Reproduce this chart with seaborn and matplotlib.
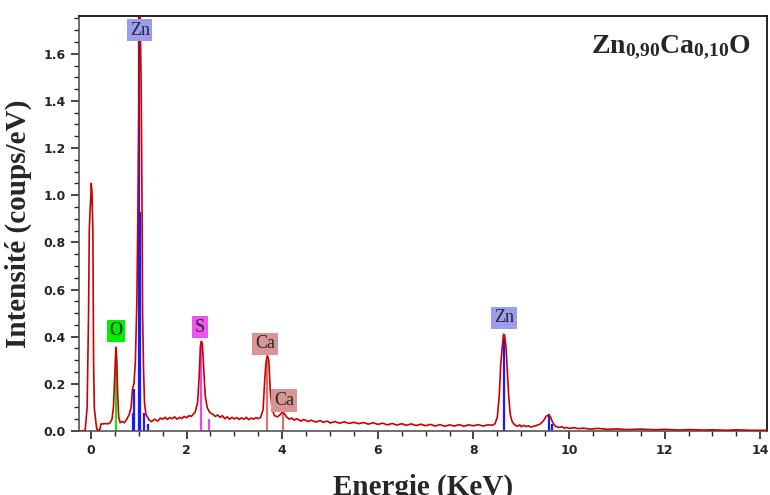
import numpy as np
import pandas as pd
import matplotlib
matplotlib.use("Agg")
import matplotlib.pyplot as plt
from matplotlib.ticker import MultipleLocator
import seaborn as sns

# EDX spectrum, (keV, coups/eV) pairs
zero_peak = [(-0.25, 0.0), (-0.15, 0.0), (-0.12, 0.005), (-0.08, 0.1), (-0.05, 0.5),
             (-0.035, 0.85), (-0.015, 0.95), (0.0, 1.0), (0.005, 1.05), (0.02, 1.02),
             (0.04, 0.85), (0.055, 0.3), (0.07, 0.1), (0.09, 0.06), (0.12, 0.01),
             (0.16, 0.0), (0.19, 0.01), (0.21, 0.03), (0.25, 0.03), (0.3, 0.032),
             (0.35, 0.03), (0.4, 0.035)]
o_zn_l = [(0.44, 0.05), (0.47, 0.1), (0.49, 0.2), (0.51, 0.3), (0.523, 0.355),
          (0.54, 0.3), (0.56, 0.15), (0.58, 0.06), (0.61, 0.035), (0.65, 0.04),
          (0.7, 0.035), (0.75, 0.05), (0.8, 0.07), (0.84, 0.1), (0.87, 0.18),
          (0.9, 0.2), (0.93, 0.3), (0.96, 0.55), (0.98, 0.9), (1.0, 1.35),
          (1.015, 1.78), (1.03, 1.75), (1.05, 1.47), (1.07, 0.9), (1.08, 0.5),
          (1.1, 0.26), (1.12, 0.12), (1.15, 0.07), (1.18, 0.06), (1.22, 0.045),
          (1.27, 0.04), (1.33, 0.05), (1.4, 0.042), (1.45, 0.055), (1.5, 0.05),
          (1.55, 0.058), (1.6, 0.049), (1.65, 0.057), (1.7, 0.052), (1.75, 0.06),
          (1.8, 0.05), (1.85, 0.058), (1.9, 0.053), (1.95, 0.062), (2.0, 0.056),
          (2.05, 0.065), (2.1, 0.062)]
s_ca = [(2.18, 0.08), (2.23, 0.12), (2.26, 0.22), (2.29, 0.36), (2.31, 0.38),
        (2.33, 0.37), (2.36, 0.26), (2.39, 0.15), (2.43, 0.1), (2.48, 0.08),
        (2.55, 0.07), (2.6, 0.062), (2.65, 0.068), (2.7, 0.058), (2.75, 0.065),
        (2.8, 0.052), (2.85, 0.06), (2.9, 0.05), (2.95, 0.058), (3.0, 0.051),
        (3.05, 0.057), (3.1, 0.049), (3.15, 0.056), (3.2, 0.05), (3.25, 0.058),
        (3.3, 0.048), (3.35, 0.055), (3.4, 0.05), (3.45, 0.057), (3.5, 0.052),
        (3.55, 0.058), (3.6, 0.09), (3.63, 0.2), (3.66, 0.29), (3.69, 0.32),
        (3.72, 0.3), (3.75, 0.17), (3.79, 0.09), (3.84, 0.065), (3.9, 0.06),
        (3.95, 0.068), (4.0, 0.078), (4.04, 0.075), (4.09, 0.06), (4.15, 0.05)]
background = [(4.2, 0.055), (4.25, 0.046), (4.3, 0.052), (4.4, 0.042), (4.45, 0.049),
              (4.55, 0.04), (4.6, 0.046), (4.7, 0.038), (4.8, 0.044), (4.85, 0.037),
              (4.95, 0.042), (5.0, 0.034), (5.1, 0.04), (5.2, 0.033), (5.3, 0.039),
              (5.4, 0.032), (5.5, 0.037), (5.6, 0.031), (5.7, 0.036), (5.8, 0.029),
              (5.9, 0.035), (6.0, 0.028), (6.1, 0.033), (6.2, 0.026), (6.3, 0.032),
              (6.4, 0.025), (6.5, 0.031), (6.6, 0.024), (6.7, 0.03), (6.8, 0.023),
              (6.9, 0.029), (7.0, 0.022), (7.1, 0.028), (7.2, 0.021), (7.3, 0.027),
              (7.4, 0.02), (7.5, 0.026), (7.6, 0.021), (7.7, 0.027), (7.8, 0.02),
              (7.9, 0.026), (8.0, 0.022), (8.1, 0.027), (8.2, 0.021), (8.3, 0.026),
              (8.4, 0.025)]
zn_k = [(8.45, 0.03), (8.5, 0.06), (8.54, 0.15), (8.57, 0.28), (8.6, 0.35),
        (8.63, 0.41), (8.65, 0.405), (8.68, 0.36), (8.71, 0.25), (8.74, 0.14),
        (8.77, 0.07), (8.81, 0.04), (8.86, 0.026), (8.92, 0.02), (8.97, 0.026),
        (9.0, 0.018), (9.05, 0.024), (9.1, 0.019), (9.15, 0.022), (9.2, 0.017),
        (9.3, 0.022), (9.4, 0.03), (9.47, 0.045), (9.52, 0.062), (9.57, 0.068),
        (9.61, 0.06), (9.65, 0.04), (9.7, 0.022), (9.78, 0.015), (9.85, 0.018),
        (9.9, 0.012), (9.95, 0.015), (10.0, 0.011), (10.1, 0.014), (10.2, 0.01),
        (10.3, 0.012), (10.45, 0.008), (10.6, 0.011), (10.8, 0.007), (11.0, 0.009),
        (11.2, 0.006), (11.5, 0.008), (11.8, 0.005), (12.0, 0.007), (12.3, 0.004),
        (12.5, 0.006), (12.8, 0.004), (13.0, 0.005), (13.3, 0.003), (13.5, 0.005),
        (13.8, 0.003), (14.0, 0.003), (14.14, 0.003)]

# characteristic X-ray lines
line_energy = [0.525, 0.885, 0.895, 1.012, 1.034, 1.107, 1.20, 2.307, 2.46, 3.69, 4.01, 8.63, 9.57, 9.65]
line_height = [0.35, 0.075, 0.18, 1.76, 0.93, 0.075, 0.03, 0.38, 0.05, 0.30, 0.08, 0.41, 0.07, 0.03]
line_element = ["O", "Zn", "Zn", "Zn", "Zn", "Zn", "Zn", "S", "S", "Ca", "Ca", "Zn", "Zn", "Zn"]

# peak labels
label_text = ["Zn", "O", "S", "Ca", "Ca", "Zn"]
label_x = [1.02, 0.52, 2.28, 3.64, 4.04, 8.64]
label_y = [1.70, 0.425, 0.44, 0.37, 0.13, 0.48]

line_colors = {"O": "#22dd22", "Zn": "#1a1aff", "S": "#ee44ee", "Ca": "#e07070"}
box_colors = {"O": "#00ee00", "Zn": "#9c9cf0", "S": "#ee55ee", "Ca": "#d99595"}

sns.set_style("ticks")
plt.rcParams["font.family"] = ["DejaVu Sans"]
plt.rcParams["mathtext.fontset"] = "custom"
plt.rcParams["mathtext.rm"] = "Liberation Serif"
plt.rcParams["mathtext.bf"] = "Liberation Serif:bold"

fig = plt.figure(figsize=(7.7, 4.95), dpi=100)
ax = fig.add_axes([0.1026, 0.1293, 0.8935, 0.8384])

df = pd.DataFrame(zero_peak + o_zn_l + s_ca + background + zn_k, columns=["E", "I"])

# element lines first, spectrum on top
for e, h, el in zip(line_energy, line_height, line_element):
    ax.vlines(e, 0, h, color=line_colors[el], lw=1.6, zorder=2)

sns.lineplot(data=df, x="E", y="I", color="#cc0000", lw=1.2, estimator=None, ax=ax, zorder=3)

for t, x, y in zip(label_text, label_x, label_y):
    ax.text(x, y, t, ha="center", va="center", fontsize=13, family="Liberation Serif",
            bbox=dict(boxstyle="square,pad=0.15", fc=box_colors[t], ec="none"), zorder=4)

ax.text(0.977, 0.925, r"$\mathbf{Zn_{0{,}90}Ca_{0{,}10}O}$", transform=ax.transAxes,
        ha="right", va="center", fontsize=20)

ax.set_xlim(-0.25, 14.14)
ax.set_ylim(0, 1.76)
ax.xaxis.set_major_locator(MultipleLocator(2))
ax.xaxis.set_minor_locator(MultipleLocator(0.5))
ax.yaxis.set_major_locator(MultipleLocator(0.2))
ax.yaxis.set_minor_locator(MultipleLocator(0.05))
ax.set_xticks(range(0, 15, 2))
ax.tick_params(which="major", length=6, width=1.2, direction="out", labelsize=9)
ax.tick_params(which="minor", length=3.5, width=1.0, direction="out")
for lab in ax.get_xticklabels() + ax.get_yticklabels():
    lab.set_fontweight("bold")
ax.yaxis.set_major_formatter(plt.FuncFormatter(lambda v, p: f"{v:.1f}"))

for s in ax.spines.values():
    s.set_color("black")
    s.set_linewidth(1.2)
ax.spines["left"].set_color("#555555")
ax.spines["bottom"].set_color("#555555")

ax.set_xlabel("Energie (KeV)", fontsize=21, fontweight="bold", family="Liberation Serif", labelpad=12)
ax.set_ylabel("Intensité (coups/eV)", fontsize=21, fontweight="bold", family="Liberation Serif", labelpad=8)

fig.savefig("out.png", dpi=100)
